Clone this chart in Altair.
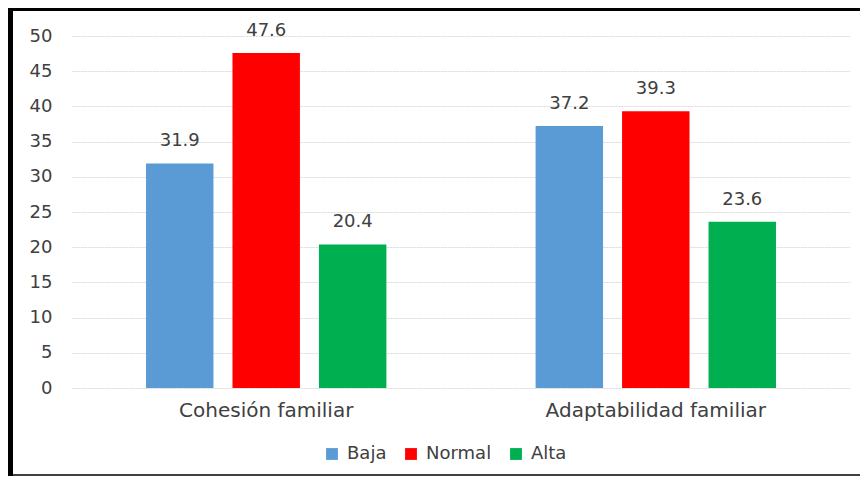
import altair as alt
import pandas as pd

categories = ["Cohesión familiar", "Adaptabilidad familiar"]
series = ["Baja", "Normal", "Alta"]
values_cohesion = [31.9, 47.6, 20.4]
values_adapt = [37.2, 39.3, 23.6]
colors = ["#5B9BD5", "#FF0000", "#00B050"]

rows = []
for cat, vals in zip(categories, [values_cohesion, values_adapt]):
    for s, v in zip(series, vals):
        rows.append({"cat": cat, "serie": s, "valor": v})
df = pd.DataFrame(rows)

FONT = "DejaVu Sans"
TXT = "#404040"

yaxis = alt.Axis(title=None, values=list(range(0, 55, 5)), domain=False,
                 ticks=False, labelFontSize=18, labelFont=FONT,
                 labelColor=TXT, labelPadding=20, labelOverlap=False,
                 gridColor="#D9D9D9", gridDash=[2, 1], gridWidth=1)
yscale = alt.Scale(domain=[0, 50])

base = alt.Chart(df).encode(
    x=alt.X("cat:N", sort=categories,
            scale=alt.Scale(paddingInner=0.383, paddingOuter=0.19),
            axis=alt.Axis(title=None, labelAngle=0, domain=False, ticks=False,
                          labelFontSize=20, labelFont=FONT, labelColor=TXT,
                          labelPadding=12, labelLimit=0)),
    xOffset=alt.XOffset("serie:N", sort=series,
                        scale=alt.Scale(paddingInner=0.22, paddingOuter=0)),
)

bars = base.mark_bar().encode(
    y=alt.Y("valor:Q", scale=yscale, axis=yaxis),
    color=alt.Color("serie:N", sort=series,
                    scale=alt.Scale(domain=series, range=colors),
                    legend=alt.Legend(title=None, orient="none", direction="horizontal",
                                      legendX=251, legendY=409,
                                      symbolType="square", symbolSize=140,
                                      symbolStrokeWidth=0,
                                      labelFontSize=18, labelFont=FONT,
                                      labelColor=TXT, columnPadding=15,
                                      labelOffset=6)),
)

labels = base.mark_text(dy=-13, fontSize=18, font=FONT, color=TXT, baseline="bottom").encode(
    y=alt.Y("valor:Q", scale=yscale, axis=yaxis),
    text=alt.Text("valor:Q", format=".1f"),
)

border_df = pd.DataFrame({"k": [0]})
left_border = alt.Chart(border_df).mark_rule(color="black", strokeWidth=5).encode(
    x=alt.value(-61.5), y=alt.value(-28), y2=alt.value(440))
top_border = alt.Chart(border_df).mark_rule(color="black", strokeWidth=3).encode(
    x=alt.value(-64), x2=alt.value(790), y=alt.value(-26.5))
bottom_border = alt.Chart(border_df).mark_rule(color="black", strokeWidth=1.5).encode(
    x=alt.value(-64), x2=alt.value(790), y=alt.value(439))

chart = alt.layer(bars, labels, left_border, top_border, bottom_border).properties(
    width=778, height=352,
    autosize=alt.AutoSizeParams(type="none"),
    padding={"left": 64, "top": 28, "right": 10, "bottom": 88},
    background="white",
).configure_view(stroke=None)

chart.save("out.html", embed_options={"renderer": "svg", "actions": False})
